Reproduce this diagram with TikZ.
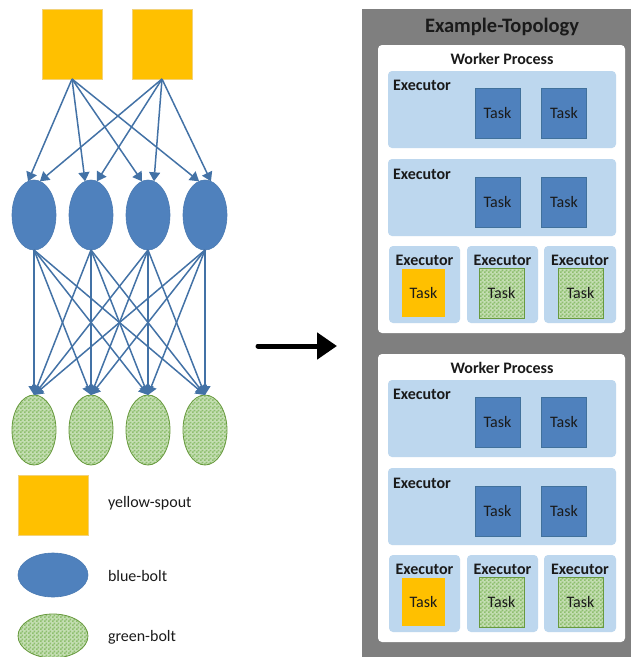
\documentclass[tikz,border=0pt]{standalone}
\usepackage{fontspec}
\setmainfont{Carlito}
\usetikzlibrary{arrows.meta,shapes.geometric,patterns}

\definecolor{spoutfill}{HTML}{FFC000}
\definecolor{spoutline}{HTML}{F2D27A}
\definecolor{boltblue}{HTML}{4F81BD}
\definecolor{boltline}{HTML}{4A7AB2}
\definecolor{flowblue}{HTML}{4372A6}
\definecolor{greenlight}{HTML}{C4DEB2}
\definecolor{greendark}{HTML}{8EBE6E}
\definecolor{greenline}{HTML}{689A3E}
\definecolor{topogray}{HTML}{7F7F7F}
\definecolor{execblue}{HTML}{BDD7EE}
\definecolor{taskline}{HTML}{41719C}
\definecolor{textdark}{HTML}{1A1A1A}

% fine checker texture for the green bolts
\pgfdeclarepatternformonly{checks}{\pgfpointorigin}{\pgfpoint{4pt}{4pt}}{\pgfpoint{4pt}{4pt}}{%
  \pgfpathrectangle{\pgfpointorigin}{\pgfpoint{2pt}{2pt}}%
  \pgfpathrectangle{\pgfpoint{2pt}{2pt}}{\pgfpoint{2pt}{2pt}}%
  \pgfusepath{fill}}

\begin{document}
\begin{tikzpicture}[x=1pt,y=-1pt,
  every node/.style={inner sep=0pt, outer sep=0pt, text=textdark},
  spout/.style={rectangle, fill=spoutfill, draw=spoutline, line width=0.6pt},
  bbolt/.style={ellipse, fill=boltblue, draw=boltline, line width=0.6pt},
  gbolt/.style={ellipse, draw=greenline, line width=0.8pt,
    preaction={fill=greenlight}, pattern=checks, pattern color=greendark},
  flow/.style={draw=flowblue, line width=1.5pt, -{Triangle[width=11pt,length=9pt]}},
  legendtext/.style={anchor=west, font=\fontsize{16}{19}\selectfont},
  wpbox/.style={rectangle, rounded corners=4pt, fill=white},
  execbox/.style={rectangle, rounded corners=4pt, fill=execblue},
  execlabel/.style={font=\bfseries\fontsize{16}{19}\selectfont},
  btask/.style={rectangle, fill=boltblue, draw=taskline, line width=0.6pt,
    minimum width=45pt, minimum height=50pt, font=\fontsize{16}{19}\selectfont},
  ytask/.style={rectangle, fill=spoutfill, minimum width=43pt, minimum height=48pt,
    font=\fontsize{16}{19}\selectfont},
  gtask/.style={rectangle, draw=greenline, line width=0.8pt,
    preaction={fill=greenlight}, pattern=checks, pattern color=greendark,
    minimum width=45pt, minimum height=50pt, font=\fontsize{16}{19}\selectfont},
]
\useasboundingbox (0,0) rectangle (631,657);

% ---------------- logical topology ----------------
\node[spout, minimum width=60pt, minimum height=70pt] (s1) at (72,44) {};
\node[spout, minimum width=60pt, minimum height=70pt] (s2) at (162,44) {};

\foreach \i/\x in {1/34,2/91,3/148,4/205}{
  \node[bbolt, minimum width=44pt, minimum height=70pt] (b\i) at (\x,215) {};
  \node[gbolt, minimum width=44pt, minimum height=70pt] (g\i) at (\x,430) {};
}

\foreach \j in {1,2,3,4}{
  \draw[flow] (s1.south) -- (b\j.100);
  \draw[flow] (s2.south) -- (b\j.80);
}
\foreach \i in {1,2,3,4}{
  \foreach \j in {1,2,3,4}{
    \draw[flow] (b\i.south) -- (g\j.north);
  }
}

% ---------------- legend ----------------
\node[spout, minimum width=70pt, minimum height=60pt] (ls) at (53,505) {};
\node[legendtext] (lst) at (108,503) {yellow-spout};
\node[bbolt, minimum width=70pt, minimum height=44pt] (lb) at (53,575) {};
\node[legendtext] (lbt) at (108,576) {blue-bolt};
\node[gbolt, minimum width=70pt, minimum height=44pt] (lg) at (53,636) {};
\node[legendtext] (lgt) at (108,637) {green-bolt};

% ---------------- mapping arrow ----------------
\coordinate (mapfrom) at (258,346);
\coordinate (mapto) at (337,346);
\draw[line width=5pt, line cap=round, -{Triangle[length=20pt,width=26pt]}] (mapfrom) -- (mapto);

% ---------------- physical topology ----------------
\fill[topogray] (362,9) rectangle (631,657);
\node[font=\bfseries\fontsize{20.5}{24}\selectfont] (topo) at (502,27) {Example-Topology};

\foreach \w/\dy in {1/0,2/309}{
  \begin{scope}[shift={(0,\dy)}]
    \node[wpbox, minimum width=247pt, minimum height=288pt] (wp\w) at (501.5,189) {};
    \node[execlabel] (wpt\w) at (502,59) {Worker Process};

    \node[execbox, minimum width=228pt, minimum height=77pt] (ea\w) at (502,109.5) {};
    \node[execlabel, anchor=west] (eal\w) at (393,85) {Executor};
    \node[btask] (ta\w) at (497.5,113) {Task};
    \node[btask] (tb\w) at (564,113) {Task};

    \node[execbox, minimum width=228pt, minimum height=77pt] (eb\w) at (502,197.5) {};
    \node[execlabel, anchor=west] (ebl\w) at (393,174) {Executor};
    \node[btask] (tc\w) at (497.5,202) {Task};
    \node[btask] (td\w) at (564,202) {Task};

    \node[execbox, minimum width=71pt, minimum height=77pt] (ec\w) at (424.5,284.5) {};
    \node[execbox, minimum width=71pt, minimum height=77pt] (ed\w) at (502.5,284.5) {};
    \node[execbox, minimum width=72pt, minimum height=77pt] (ee\w) at (580,284.5) {};
    \node[execlabel] (ecl\w) at (424.5,260) {Executor};
    \node[execlabel] (edl\w) at (502.5,260) {Executor};
    \node[execlabel] (eel\w) at (580,260) {Executor};
    \node[ytask] (te\w) at (423.5,293) {Task};
    \node[gtask] (tf\w) at (501.5,293) {Task};
    \node[gtask] (tg\w) at (580.5,293) {Task};
  \end{scope}
}
\end{tikzpicture}
\end{document}
